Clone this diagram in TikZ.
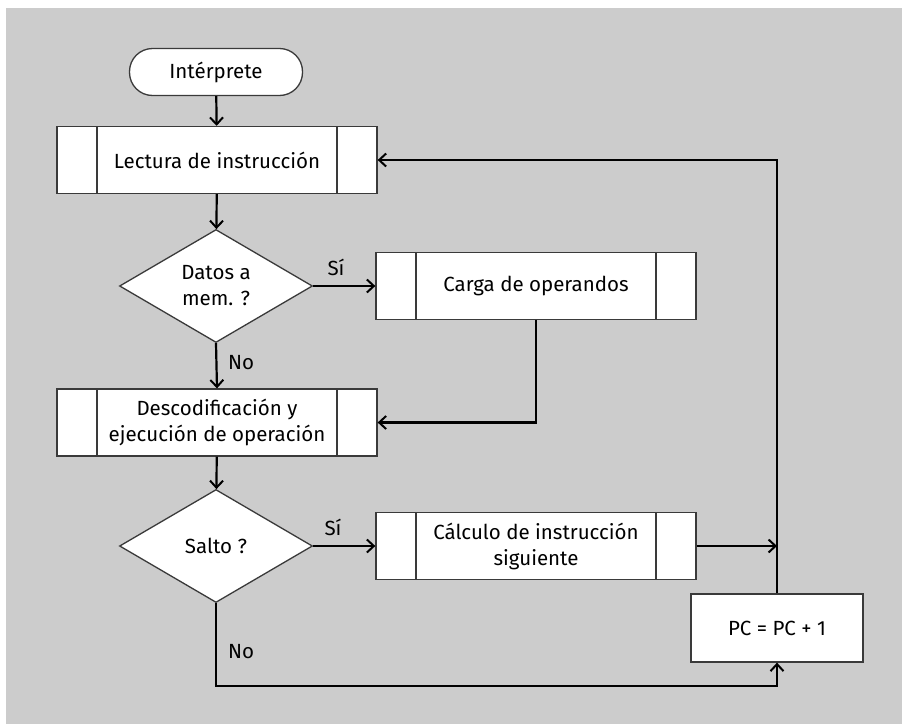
\documentclass[tikz,border=0pt]{standalone}
\usepackage{fontspec}
\setmainfont{Fira Sans}
\usetikzlibrary{shapes.geometric,arrows.meta}

\definecolor{panel}{HTML}{CCCCCC}
\definecolor{edge}{HTML}{3A3A3A}

\tikzset{
  base/.style={draw=edge, line width=1.3pt, fill=white, inner sep=0pt,
               font=\fontsize{20.5}{26}\selectfont, align=center},
  terminal/.style={base, rounded corners=23pt, minimum width=173pt, minimum height=47pt},
  procbox/.style={base, minimum height=67pt,
    path picture={
      \draw[edge, line width=1.3pt]
        ([xshift=40pt]path picture bounding box.north west) --
        ([xshift=40pt]path picture bounding box.south west)
        ([xshift=-40pt]path picture bounding box.north east) --
        ([xshift=-40pt]path picture bounding box.south east);
    }},
  plainbox/.style={base, minimum width=172pt, minimum height=68pt},
  decision/.style={base, diamond, minimum width=193pt, minimum height=113pt},
  flow/.style={draw=black, line width=2.2pt, line join=miter},
  arr/.style={flow, -{Straight Barb[length=7pt,width=13pt,line width=2pt]}},
  lab/.style={font=\fontsize{20.5}{24}\selectfont, inner sep=0pt}
}

\begin{document}
\begin{tikzpicture}[x=1pt, y=-1pt]
  % page and grey panel
  \useasboundingbox (0,0) rectangle (902,726);
  \fill[white] (0,0) rectangle (902,726);
  \fill[panel] (6,8) rectangle (902,724);

  % nodes
  \node[terminal] (start) at (216,72) {Intérprete};
  \node[procbox, minimum width=320pt] (lect) at (217,160) {Lectura de instrucción};
  \node[decision] (d1) at (216,286) {Datos a\\mem. ?};
  \node[procbox, minimum width=320pt] (carga) at (536,286) {Carga de operandos};
  \node[procbox, minimum width=320pt] (desc) at (217,422.5) {Descodificación y\\ejecución de operación};
  \node[decision] (d2) at (216,546) {Salto ?};
  \node[procbox, minimum width=320pt] (calc) at (536,546) {Cálculo de instrucción\\siguiente};
  \node[plainbox] (pc) at (777,628) {PC = PC + 1};

  \coordinate (join) at (pc.north |- calc.east);
  \coordinate (low) at (216,686);

  % connectors
  \draw[arr] (start) -- (lect);
  \draw[arr] (lect) -- (d1);
  \draw[arr] (d1.east) -- (carga.west);
  \draw[arr] (d1.south) -- (desc.north);
  \draw[arr] (carga.south) |- (desc.east);
  \draw[arr] (desc) -- (d2);
  \draw[arr] (d2.east) -- (calc.west);
  \draw[arr] (calc.east) -- (join);
  \draw[arr] (pc.north) |- (lect.east);
  \draw[arr] (d2.south) -- (low) -| (pc.south);

  % branch labels
  \node[lab] (si1) at (336,267) {Sí};
  \node[lab] (no1) at (241,363) {No};
  \node[lab] (si2) at (333,527) {Sí};
  \node[lab] (no2) at (241,652) {No};
\end{tikzpicture}
\end{document}
